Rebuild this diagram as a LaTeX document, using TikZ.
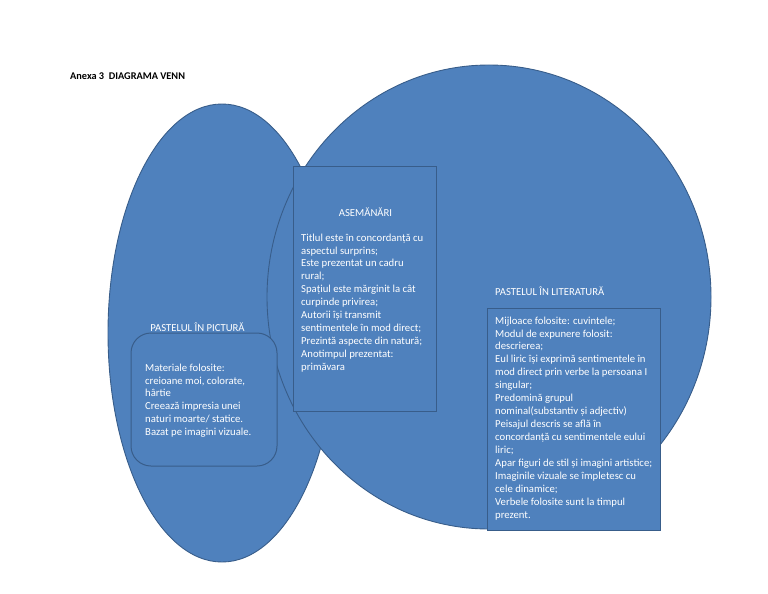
\documentclass[tikz,border=0pt]{standalone}
\usepackage{fontspec}
\setmainfont{Carlito}
\usepackage{tikz}
\usetikzlibrary{shapes.geometric,positioning}
\definecolor{vennfill}{HTML}{4F81BD}
\definecolor{venndraw}{HTML}{385D8A}
\tikzset{
    venn/.style={ellipse, draw=venndraw, fill=vennfill, line width=0.9pt, inner sep=0pt},
    box/.style={rectangle, draw=venndraw, fill=vennfill, line width=1pt, inner sep=0pt},
    txt/.style={text=white, anchor=north west, align=left, inner sep=0pt, font=\fontsize{10.7}{12.93}\selectfont},
    heading/.style={text=white, inner sep=0pt, font=\fontsize{10.7}{12.93}\selectfont}
}

\begin{document}
\begin{tikzpicture}[x=1pt, y=-1pt]
    \useasboundingbox (0,0) rectangle (768,594);
    \node[anchor=west, inner sep=0pt, font=\fontsize{10.3}{12}\selectfont\bfseries] (anexa) at (70,76) {Anexa 3\ \ DIAGRAMA VENN};

    % the two sets
    \node[venn, minimum width=228, minimum height=458] (pictura) at (222,333) {};
    \node[venn, minimum width=444, minimum height=464] (literatura) at (489,297) {};

    % common part
    \node[box, minimum width=143, minimum height=245] (asem) at (364.5,288.5) {};
    \node[heading] (asemtitle) at (365.5,212) {ASEMĂNĂRI};
    \node[txt] (asemtext) at (301,233.5) {Titlul este în concordanță cu\\aspectul surprins;\\Este prezentat un cadru\\rural;\\Spațiul este mărginit la cât\\curpinde privirea;\\Autorii își transmit\\sentimentele în mod direct;\\Prezintă aspecte din natură;\\Anotimpul prezentat:\\primăvara};

    % painting
    \node[heading] (picttitle) at (197.5,327) {PASTELUL ÎN PICTURĂ};
    \node[box, rounded corners=20, minimum width=146, minimum height=133] (pictbox) at (204,399.5) {};
    \node[txt] (picttext) at (145,363.5) {Materiale folosite:\\creioane moi, colorate,\\hârtie\\Creează impresia unei\\naturi moarte/ statice.\\Bazat pe imagini vizuale.};

    % literature
    \node[heading, anchor=west] (littitle) at (495,291) {PASTELUL ÎN LITERATURĂ};
    \node[box, minimum width=173, minimum height=222] (litbox) at (573.5,419) {};
    \node[txt] (littext) at (495,316.5) {Mijloace folosite: cuvintele;\\Modul de expunere folosit:\\descrierea;\\Eul liric își exprimă sentimentele în\\mod direct prin verbe la persoana I\\singular;\\Predomină grupul\\nominal(substantiv și adjectiv)\\Peisajul descris se află în\\concordanță cu sentimentele eului\\liric;\\Apar figuri de stil și imagini artistice;\\Imaginile vizuale se împletesc cu\\cele dinamice;\\Verbele folosite sunt la timpul\\prezent.};
\end{tikzpicture}
\end{document}
